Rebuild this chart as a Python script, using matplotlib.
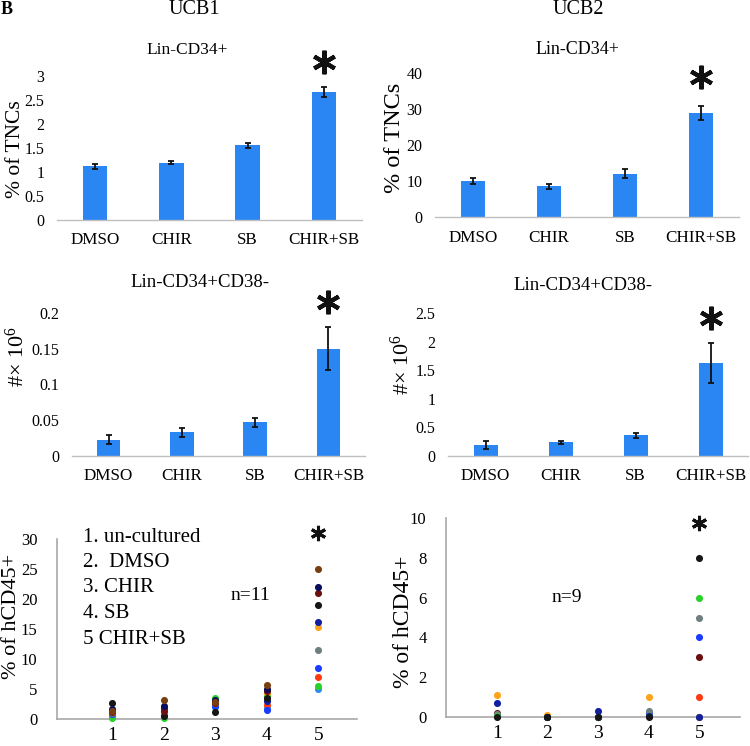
import matplotlib
matplotlib.use("Agg")
import matplotlib.pyplot as plt
import numpy as np

plt.rcParams['font.family'] = ['Liberation Serif', 'DejaVu Serif']
plt.rcParams['mathtext.fontset'] = 'custom'
plt.rcParams['mathtext.rm'] = 'Liberation Serif'
plt.rcParams['mathtext.it'] = 'Liberation Serif:italic'
plt.rcParams['mathtext.bf'] = 'Liberation Serif:bold'

W, H = 750, 746
categories = ["DMSO", "CHIR", "SB", "CHIR+SB"]

# UCB1 Lin-CD34+ (% of TNCs)
ucb1_cd34 = [1.12, 1.19, 1.56, 2.67]
ucb1_cd34_err = [0.05, 0.03, 0.05, 0.11]
# UCB2 Lin-CD34+ (% of TNCs)
ucb2_cd34 = [10.1, 8.6, 12.0, 28.9]
ucb2_cd34_err = [0.8, 0.7, 1.2, 1.9]
# UCB1 Lin-CD34+CD38- (# x 10^6)
ucb1_cd38 = [0.023, 0.033, 0.047, 0.150]
ucb1_cd38_err = [0.006, 0.006, 0.006, 0.030]
# UCB2 Lin-CD34+CD38- (# x 10^6)
ucb2_cd38 = [0.20, 0.24, 0.36, 1.62]
ucb2_cd38_err = [0.07, 0.03, 0.05, 0.35]

groups = [1, 2, 3, 4, 5]
# UCB1 % hCD45+ per donor (n=11), values for groups 1..5
ucb1_colors = ['#2e8cf0', '#ff3a10', '#2bd12b', '#1a3cff', '#6e7f80', '#ffa31a',
               '#1020a0', '#161616', '#6b0f0f', '#0c0c5c', '#7a3f10']
ucb1_donors = [
    [0.5, 0.8, 2.0, 1.8, 5.0],
    [0.8, 0.6, 2.5, 2.4, 7.0],
    [0.2, 0.2, 3.5, 3.8, 5.5],
    [0.9, 1.0, 2.2, 1.5, 8.5],
    [1.0, 0.9, 2.8, 3.2, 11.5],
    [1.1, 1.2, 2.6, 4.4, 15.4],
    [1.4, 1.9, 3.0, 3.0, 16.1],
    [2.6, 0.5, 1.2, 3.5, 19.0],
    [1.2, 1.4, 2.7, 4.6, 21.0],
    [1.6, 2.1, 3.1, 5.0, 22.0],
    [1.3, 3.2, 2.9, 5.7, 25.0],
]
# UCB2 % hCD45+ per donor (n=9)
ucb2_colors = ['#2e8cf0', '#ffa31a', '#ff3a10', '#6b0f0f', '#1a3cff',
               '#6e7f80', '#2bd12b', '#1020a0', '#161616']
ucb2_donors = [
    [0.05, 0.0, 0.0, 0.05, 0.0],
    [1.1, 0.1, 0.0, 1.0, 0.0],
    [0.05, 0.0, 0.0, 0.05, 1.0],
    [0.2, 0.02, 0.0, 0.05, 3.0],
    [0.05, 0.0, 0.0, 0.2, 4.0],
    [0.15, 0.02, 0.0, 0.3, 5.0],
    [0.05, 0.0, 0.0, 0.05, 6.0],
    [0.7, 0.02, 0.3, 0.05, 0.0],
    [0.0, 0.0, 0.0, 0.0, 8.0],
]
legend_lines = ["1. un-cultured", "2.  DMSO", "3. CHIR", "4. SB", "5 CHIR+SB"]

BAR = '#2a86f2'
SPINE = '#bfbfbf'

fig = plt.figure(figsize=(W / 100, H / 100), dpi=100)


def add_ax(x0, x1, ybot, ytop):
    return fig.add_axes([x0 / W, 1 - ybot / H, (x1 - x0) / W, (ybot - ytop) / H])


def px(x, y):
    return x / W, 1 - y / H


def bar_panel(ax, vals, errs, ylim, yticks, yticklabels, star_y):
    x = np.arange(len(categories))
    ax.bar(x, vals, width=0.32, color=BAR, zorder=2)
    ax.errorbar(x, vals, yerr=errs, fmt='none', ecolor='#111111', elinewidth=1.3,
                capsize=2.5, capthick=1.3, zorder=3)
    ax.set_xlim(-0.5, 3.5)
    ax.set_ylim(*ylim)
    ax.set_yticks(yticks)
    ax.set_yticklabels(yticklabels)
    ax.set_xticks(x)
    ax.set_xticklabels(categories)
    for s in ['top', 'right', 'left']:
        ax.spines[s].set_visible(False)
    ax.spines['bottom'].set_color(SPINE)
    ax.spines['bottom'].set_linewidth(1.0)
    ax.tick_params(axis='y', length=0, labelsize=11.5, pad=9)
    ax.tick_params(axis='x', length=0, labelsize=12.3, pad=9)
    ax.plot([3], [star_y], marker=(6, 2, 0), markersize=17, mew=3, color='#111111',
            clip_on=False, linestyle='none')


# Panel 1: UCB1 Lin-CD34+
ax1 = add_ax(57, 362, 220, 76)
bar_panel(ax1, ucb1_cd34, ucb1_cd34_err, (0, 3), [0, 0.5, 1, 1.5, 2, 2.5, 3],
          ['0', '0.5', '1', '1.5', '2', '2.5', '3'], 3.29)
# Panel 2: UCB2 Lin-CD34+
ax2 = add_ax(435, 739, 217, 73)
bar_panel(ax2, ucb2_cd34, ucb2_cd34_err, (0, 40), [0, 10, 20, 30, 40],
          ['0', '10', '20', '30', '40'], 38.9)
# Panel 3: UCB1 Lin-CD34+CD38-
ax3 = add_ax(72, 365, 456, 313)
bar_panel(ax3, ucb1_cd38, ucb1_cd38_err, (0, 0.2), [0, 0.05, 0.1, 0.15, 0.2],
          ['0', '0.05', '0.1', '0.15', '0.2'], 0.215)
# Panel 4: UCB2 Lin-CD34+CD38-
ax4 = add_ax(448, 748, 456, 313)
bar_panel(ax4, ucb2_cd38, ucb2_cd38_err, (0, 2.5), [0, 0.5, 1, 1.5, 2, 2.5],
          ['0', '0.5', '1', '1.5', '2', '2.5'], 2.41)


def scatter_panel(ax, donors, colors, ylim, yticks, xlim, star_y):
    for vals, c in zip(donors, colors):
        ax.scatter(groups, vals, s=26, color=c, zorder=3, clip_on=False, linewidths=0)
    ax.set_xlim(*xlim)
    ax.set_ylim(*ylim)
    ax.set_yticks(yticks)
    ax.set_xticks(groups)
    for s in ['top', 'right']:
        ax.spines[s].set_visible(False)
    for s in ['left', 'bottom']:
        ax.spines[s].set_color('#a8a8a8')
        ax.spines[s].set_linewidth(1.2)
    ax.tick_params(axis='both', length=0)
    ax.tick_params(axis='y', labelsize=12, pad=14)
    ax.tick_params(axis='x', labelsize=14, pad=6)
    ax.plot([5], [star_y], marker=(6, 2, 0), markersize=11, mew=2.2, color='#111111',
            clip_on=False, linestyle='none')


# Panel 5: UCB1 hCD45+
ax5 = add_ax(57, 357, 719, 539)
scatter_panel(ax5, ucb1_donors, ucb1_colors, (0, 30), [0, 5, 10, 15, 20, 25, 30],
              (-0.07, 5.75), 31)
# Panel 6: UCB2 hCD45+
ax6 = add_ax(446, 740, 717, 518)
scatter_panel(ax6, ucb2_donors, ucb2_colors, (0, 10), [0, 2, 4, 6, 8, 10],
              (0, 5.8), 9.75)

# Legend text block in panel 5
for i, t in enumerate(legend_lines):
    fig.text(*px(83, 537 + i * 25.5), t, fontsize=15, ha='left', va='center')
fig.text(*px(250, 595), "n=11", fontsize=14, ha='center', va='center')
fig.text(*px(567, 597), "n=9", fontsize=14, ha='center', va='center')

# Titles
fig.text(*px(194, 10), "UCB1", fontsize=14.5, ha='center', va='center')
fig.text(*px(578, 10), "UCB2", fontsize=14.5, ha='center', va='center')
fig.text(*px(187, 50), "Lin-CD34+", fontsize=12.5, ha='center', va='center')
fig.text(*px(577, 50), "Lin-CD34+", fontsize=13, ha='center', va='center')
fig.text(*px(200, 283), "Lin-CD34+CD38-", fontsize=13.5, ha='center', va='center')
fig.text(*px(583, 286), "Lin-CD34+CD38-", fontsize=13.5, ha='center', va='center')

# Y labels
fig.text(*px(16, 149), "% of TNCs", fontsize=15.5, rotation=90, ha='center', va='center')
fig.text(*px(395, 138), "% of TNCs", fontsize=17.5, rotation=90, ha='center', va='center')
fig.text(*px(17, 357), "#× 10$^{6}$", fontsize=16, rotation=90, ha='center', va='center')
fig.text(*px(402, 365), "#× 10$^{6}$", fontsize=16, rotation=90, ha='center', va='center')
fig.text(*px(12, 616), "% of hCD45+", fontsize=16, rotation=90, ha='center', va='center')
fig.text(*px(404, 622), "% of hCD45+", fontsize=17, rotation=90, ha='center', va='center')

# Panel letter
fig.text(*px(1, 9), "B", fontsize=13, fontweight='bold', ha='left', va='center')

fig.savefig("out.png", dpi=100)
